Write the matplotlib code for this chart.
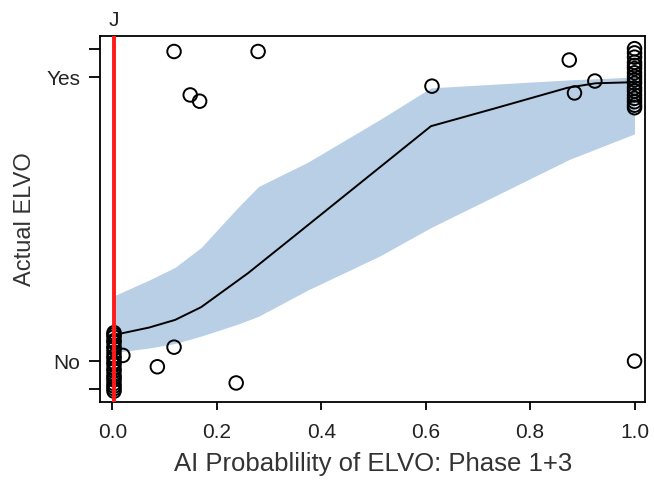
import matplotlib
matplotlib.use('Agg')
import matplotlib.pyplot as plt

plt.rcParams['font.family'] = ['Liberation Sans', 'DejaVu Sans']

# Smoothed fit and its confidence band
fit_x = [0.003, 0.07, 0.12, 0.17, 0.26, 0.355, 0.61, 0.733, 0.871, 0.925, 1.0]
fit_y = [0.092, 0.118, 0.145, 0.19, 0.31, 0.45, 0.827, 0.89, 0.962, 0.978, 0.982]

band_x = [0.003, 0.07, 0.12, 0.17, 0.24, 0.28, 0.374, 0.512, 0.61, 0.875, 1.0]
band_lo = [0.03, 0.046, 0.062, 0.088, 0.13, 0.158, 0.25, 0.37, 0.47, 0.71, 0.80]
band_hi = [0.23, 0.285, 0.33, 0.40, 0.54, 0.615, 0.70, 0.85, 0.962, 0.99, 1.0]

# Observations (jittered around No=0 / Yes=1)
pts_x = [0.118, 0.279, 0.149, 0.167, 0.612, 0.875, 0.885, 0.924, 1.0,
         0.118, 0.086, 0.02, 0.237]
pts_y = [1.09, 1.09, 0.937, 0.915, 0.968, 1.06, 0.944, 0.986, 0.0,
         0.049, -0.02, 0.02, -0.077]

zero_x = 0.003
zero_y = [0.10, 0.093, 0.085, 0.072, 0.066, 0.051, 0.044, 0.031, 0.018, 0.009,
          -0.004, -0.012, -0.027, -0.035, -0.049, -0.058, -0.066, -0.079,
          -0.088, -0.097, -0.106]
one_x = 1.0
one_y = [1.10, 1.085, 1.07, 1.052, 1.041, 1.03, 1.015, 1.002, 0.99, 0.978,
         0.962, 0.951, 0.937, 0.925, 0.913, 0.901, 0.892]

fig = plt.figure(figsize=(6.54, 4.82), dpi=100)
ax = fig.add_axes([0.153, 0.166, 0.834, 0.759])

ax.fill_between(band_x, band_lo, band_hi, color='#b8cfe6', lw=0, zorder=1)
ax.plot(fit_x, fit_y, color='black', lw=1.4, zorder=2)

circ = dict(s=95, facecolors='none', edgecolors='black', linewidths=1.4, zorder=3)
ax.scatter(pts_x, pts_y, **circ)
ax.scatter([zero_x] * len(zero_y), zero_y, **circ)
ax.scatter([one_x] * len(one_y), one_y, **circ)

ax.axvline(0.003, color='#ff1a1a', lw=2.8, zorder=4)
ax.text(0.003, 1.20, 'J', ha='center', va='center', fontsize=15,
        color='#222222', clip_on=False)

ax.set_xlim(-0.0237, 1.021)
ax.set_ylim(-0.144, 1.144)

ax.set_xticks([0.0, 0.2, 0.4, 0.6, 0.8, 1.0])
ax.set_xticklabels(['0.0', '0.2', '0.4', '0.6', '0.8', '1.0'])
ax.set_yticks([-0.1, 0, 1, 1.1])
ax.set_yticklabels(['', 'No', 'Yes', ''])
ax.tick_params(axis='x', length=6, width=1.3, labelsize=15, pad=9,
               labelcolor='#222222')
ax.tick_params(axis='y', length=8, width=1.3, labelsize=15, pad=6,
               labelcolor='#222222')
for s in ax.spines.values():
    s.set_linewidth(1.3)

ax.set_xlabel('AI Probablility of ELVO: Phase 1+3', fontsize=18.5, color='#333333', labelpad=7)
ax.set_ylabel('Actual ELVO', fontsize=17, color='#333333', labelpad=8)

fig.savefig('out.png', dpi=100)
